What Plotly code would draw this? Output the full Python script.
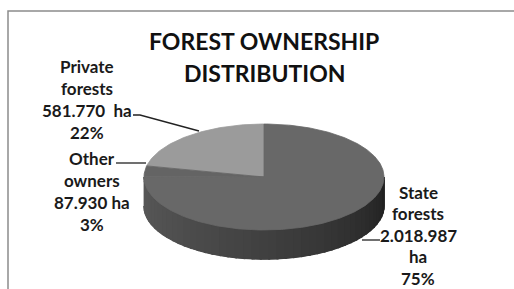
import numpy as np
import plotly.graph_objects as go

# ---- data ----
categories = ["Private forests", "Other owners", "State forests"]
areas_ha = [581770, 87930, 2018987]
label_lines = [
    ["Private", "forests", "581.770  ha", "22%"],
    ["Other", "owners", "87.930 ha", "3%"],
    ["State", "forests", "2.018.987", "ha", "75%"],
]
title_lines = ["FOREST OWNERSHIP", "DISTRIBUTION"]

# ---- styling / geometry (pixel space) ----
W, H = 514, 289
cx, cy, a, b, depth = 264, 177, 120, 53, 29
top_colors = ["#9b9b9b", "#646464", "#686868"]
FONT = "Lato"

fig = go.Figure()

vals = np.array(areas_ha, dtype=float)
fracs = vals / vals.sum()
starts = 90 + 360 * np.concatenate([[0], np.cumsum(fracs)[:-1]])
ends = 90 + 360 * np.cumsum(fracs)

def pt(theta_deg, dz=0.0):
    t = np.radians(theta_deg)
    return cx + a * np.cos(t), cy - b * np.sin(t) + dz

# full side wall base
ts = np.linspace(180, 360, 120)
xt, yt = pt(ts)
xb, yb = pt(ts[::-1], depth)
fig.add_trace(go.Scatter(x=np.concatenate([xt, xb]), y=np.concatenate([yt, yb]),
                         mode="lines", fill="toself", fillcolor="rgb(55,55,55)",
                         line=dict(color="rgb(55,55,55)", width=1),
                         hoverinfo="skip", showlegend=False))
# shaded strips
n = 45
edges = np.linspace(180, 360, n + 1)
for i in range(n):
    t0, t1 = edges[i], edges[i + 1] + 0.6
    tt = np.linspace(t0, min(t1, 360), 4)
    xs_top, ys_top = pt(tt)
    xs_bot, ys_bot = pt(tt[::-1], depth)
    f = i / (n - 1)
    g = int(round(88 - 55 * f ** 1.2))
    col = f"rgb({g},{g},{g})"
    fig.add_trace(go.Scatter(x=np.concatenate([xs_top, xs_bot]),
                             y=np.concatenate([ys_top, ys_bot]),
                             mode="lines", fill="toself", fillcolor=col,
                             line=dict(color=col, width=1.6),
                             hoverinfo="skip", showlegend=False))

# top faces
for cat, s, e, col in zip(categories, starts, ends, top_colors):
    tt = np.linspace(s, e, max(int(abs(e - s)) + 2, 4))
    xs, ys = pt(tt)
    xs = np.concatenate([[cx], xs, [cx]])
    ys = np.concatenate([[cy], ys, [cy]])
    fig.add_trace(go.Scatter(x=xs, y=ys, mode="lines", fill="toself",
                             fillcolor=col, line=dict(color=col, width=0.8),
                             name=cat, hoverinfo="name", showlegend=False))

# title
for line, yy in zip(title_lines, [41, 73]):
    fig.add_annotation(x=264, y=yy, text=f"<b>{line}</b>", showarrow=False,
                       font=dict(family=FONT, size=23, color="#111111"),
                       xanchor="center", yanchor="middle")

# slice labels, one annotation per line
label_x = [87, 92, 418]
label_y0 = [66, 158, 192]
for xx, y0, lines in zip(label_x, label_y0, label_lines):
    step = 21.6 if len(lines) == 5 else 22
    for k, t in enumerate(lines):
        fig.add_annotation(x=xx, y=y0 + k * step,
                           text=f"<b>{t}</b>", showarrow=False, borderpad=0,
                           font=dict(family=FONT, size=17, color="#1a1a1a"),
                           xanchor="center", yanchor="middle")

shapes = [
    dict(type="rect", x0=8, y0=11, x1=530, y1=310, line=dict(color="#8c8c8c", width=1.5)),
    dict(type="path", path="M 133 115 L 140 115 L 199 131", line=dict(color="#222", width=1.3)),
    dict(type="line", x0=116, y0=163, x1=146, y1=163, line=dict(color="#222", width=1.3)),
    dict(type="line", x0=362, y0=240, x1=380, y1=240, line=dict(color="#222", width=1.3)),
]
for s in shapes:
    s.update(xref="x", yref="y")
    fig.add_shape(**s)

fig.update_layout(
    width=W, height=H, margin=dict(l=0, r=0, t=0, b=0),
    paper_bgcolor="white", plot_bgcolor="white",
    xaxis=dict(range=[0, W], visible=False, fixedrange=True),
    yaxis=dict(range=[H, 0], visible=False, fixedrange=True),
    showlegend=False,
)
fig.write_html("out.html", config={"displayModeBar": False},
               post_script="document.body.style.margin='0';document.body.style.overflow='hidden';")
